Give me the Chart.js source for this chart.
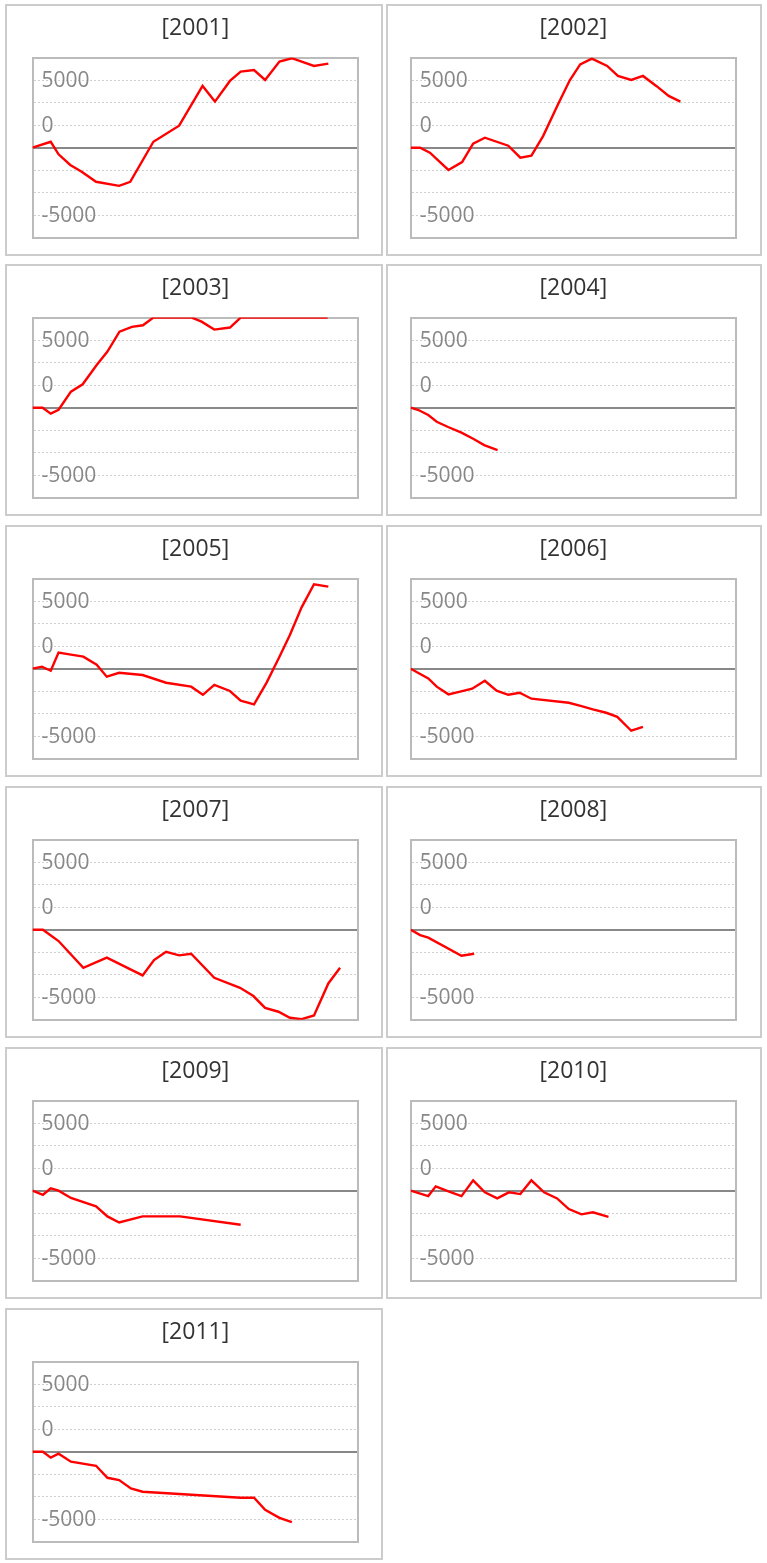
<!DOCTYPE html>
<html>
<head>
<meta charset="utf-8">
<script src="https://cdn.jsdelivr.net/npm/chart.js@4.4.0/dist/chart.umd.min.js"></script>
<style>
  body { margin: 0; background: #fff; }
  .panel { position: absolute; box-sizing: border-box; height: 252px; border: 2px solid #ccc; background: #fff; }
  .panel canvas { position: absolute; left: 0; top: 0; }
</style>
</head>
<body>
<script>
// x = position along the year (0-100), y = value
const YEARS = ['2001', '2002', '2003', '2004', '2005', '2006', '2007', '2008', '2009', '2010', '2011'];

const x2001 = [0, 5.6, 8.0, 11.6, 15.1, 19.5, 26.6, 30.0, 37.1, 45.0, 52.2, 56.0, 60.6, 63.9, 68.0, 71.4, 75.8, 79.6, 86.4, 90.8];
const y2001 = [0, 440, -490, -1280, -1780, -2520, -2820, -2520, 440, 1630, 4570, 3410, 4940, 5630, 5750, 5010, 6370, 6620, 6050, 6220];

const x2002 = [0, 2.9, 5.9, 11.6, 15.8, 19.2, 22.8, 30.0, 33.7, 37.1, 40.7, 45.3, 48.9, 52.1, 55.7, 60.4, 63.7, 67.8, 71.4, 75.5, 79.3, 82.9];
const y2002 = [0, 0, -370, -1650, -1060, 300, 740, 150, -740, -590, 860, 3210, 4990, 6170, 6590, 6050, 5310, 5010, 5310, 4570, 3830, 3410];

const x2003 = [0, 3.1, 5.6, 8.0, 11.8, 15.4, 19.7, 23.0, 26.7, 30.5, 33.9, 37.1, 48.9, 51.9, 55.8, 60.6, 63.9, 90.6];
const y2003 = [0, 0, -440, -150, 1190, 1730, 3160, 4150, 5630, 5980, 6100, 6667, 6667, 6370, 5780, 5930, 6667, 6667];

const x2004 = [0, 2.4, 5.4, 8.0, 11.5, 15.6, 19.2, 22.6, 26.7];
const y2004 = [0, -170, -540, -1040, -1430, -1850, -2300, -2770, -3140];

const x2005 = [0, 2.9, 5.6, 8.0, 11.8, 15.6, 19.7, 22.8, 26.6, 33.8, 41.0, 48.7, 52.3, 55.8, 60.6, 63.9, 68.0, 71.9, 75.8, 79.0, 82.6, 86.4, 90.8];
const y2005 = [0, 150, -150, 1190, 1040, 890, 300, -590, -300, -470, -1040, -1330, -1930, -1190, -1650, -2370, -2640, -1010, 890, 2490, 4540, 6250, 6070];

const x2006 = [0, 5.4, 8.0, 11.6, 15.2, 18.9, 22.8, 26.4, 30.0, 33.5, 37.1, 48.6, 52.5, 56.0, 60.1, 63.5, 67.8, 71.4];
const y2006 = [0, -720, -1330, -1900, -1700, -1480, -890, -1630, -1930, -1780, -2220, -2520, -2770, -3010, -3260, -3560, -4590, -4300];

const x2007 = [0, 3.2, 8.0, 15.6, 22.8, 33.8, 37.3, 41.0, 45.0, 48.7, 55.8, 63.7, 67.8, 71.4, 75.5, 79.0, 82.6, 86.4, 90.8, 94.4];
const y2007 = [0, 0, -840, -2820, -2070, -3380, -2250, -1630, -1900, -1780, -3560, -4300, -4910, -5780, -6070, -6520, -6620, -6350, -3980, -2820];

const x2008 = [0, 2.9, 5.4, 15.6, 19.5];
const y2008 = [0, -400, -590, -1930, -1780];

const x2009 = [0, 3.2, 5.6, 8.0, 11.8, 19.5, 23.0, 26.6, 33.8, 45.3, 63.9];
const y2009 = [0, -300, 170, 0, -540, -1160, -1900, -2350, -1900, -1900, -2520];

const x2010 = [0, 5.4, 7.7, 11.6, 15.6, 19.2, 22.8, 26.6, 30.2, 33.7, 37.1, 41.0, 45.0, 48.6, 52.5, 56.0, 60.8];
const y2010 = [0, -400, 320, -50, -400, 770, -120, -570, -120, -250, 770, -120, -570, -1360, -1750, -1600, -1930];

const x2011 = [0, 3.2, 5.6, 8.0, 11.8, 19.5, 23.0, 26.6, 30.2, 33.8, 63.9, 68.0, 71.4, 75.8, 79.6];
const y2011 = [0, 0, -440, -150, -740, -1040, -1930, -2100, -2720, -2960, -3410, -3410, -4300, -4890, -5210];

// y axis: 8 bands, labels only on three of the lines
const Y_MIN = -6667, Y_MAX = 6667;
const TICK_VALUES = [-6667, -5000, -3333, -1667, 0, 1667, 3333, 5000, 6667];
const TICK_LABELS = ['', '-5000', '', '', '', '0', '', '5000', ''];

const SERIES = {
  '2001': [x2001, y2001], '2002': [x2002, y2002], '2003': [x2003, y2003],
  '2004': [x2004, y2004], '2005': [x2005, y2005], '2006': [x2006, y2006],
  '2007': [x2007, y2007], '2008': [x2008, y2008], '2009': [x2009, y2009],
  '2010': [x2010, y2010], '2011': [x2011, y2011]
};

const ROW_TOPS = [4, 264, 525, 786, 1047, 1308];
const ZERO_IDX = 4;
const isEdge = k => k === 0 || k === TICK_VALUES.length - 1;

YEARS.forEach((year, i) => {
  const col = i % 2;
  const row = Math.floor(i / 2);
  const w = col ? 376 : 378;

  const panel = document.createElement('div');
  panel.className = 'panel';
  panel.style.left = (col ? 386 : 5) + 'px';
  panel.style.top = ROW_TOPS[row] + 'px';
  panel.style.width = w + 'px';
  const canvas = document.createElement('canvas');
  canvas.width = w - 4;
  canvas.height = 248;
  panel.appendChild(canvas);
  document.body.appendChild(panel);

  const [xs, ys] = SERIES[year];

  new Chart(canvas, {
    type: 'line',
    data: {
      datasets: [{
        data: xs.map((x, k) => ({ x: x, y: ys[k] })),
        borderColor: '#ff0000',
        borderWidth: 2.4,
        pointRadius: 0,
        tension: 0
      }]
    },
    options: {
      responsive: false,
      animation: false,
      events: [],
      layout: { padding: { left: col ? 22.7 : 25.5, right: col ? 24 : 22.7, top: 0, bottom: 16.2 } },
      plugins: {
        legend: { display: false },
        tooltip: { enabled: false },
        title: {
          display: true,
          text: '[' + year + ']',
          color: '#333',
          font: { family: 'Open Sans', size: 23, weight: 'normal' },
          padding: { top: 9, bottom: 15 }
        }
      },
      scales: {
        x: {
          type: 'linear', min: 0, max: 100,
          ticks: { display: false },
          grid: { display: false, drawTicks: false },
          border: { display: true, color: '#bbb', width: 2 }
        },
        y: {
          min: Y_MIN, max: Y_MAX,
          afterBuildTicks: s => { s.ticks = TICK_VALUES.map(v => ({ value: v })); },
          afterFit: s => { s.width = 0; s.paddingTop = 0; s.paddingBottom = 0; },
          ticks: {
            autoSkip: false,
            mirror: true, padding: 9, labelOffset: 1,
            color: '#888',
            font: { family: 'Open Sans', size: 21 },
            callback: (v, k) => TICK_LABELS[k]
          },
          grid: {
            drawTicks: false,
            color: c => (c.index === ZERO_IDX ? '#888' : (isEdge(c.index) ? '#bbb' : '#cfcfcf')),
            lineWidth: c => (c.index === ZERO_IDX || isEdge(c.index) ? 2 : 1)
          },
          border: {
            display: true, color: '#bbb', width: 2,
            dash: c => (c.index === undefined || c.index === ZERO_IDX || isEdge(c.index) ? [] : [2, 2])
          }
        },
        yr: {
          position: 'right', min: Y_MIN, max: Y_MAX,
          ticks: { display: false },
          grid: { display: false, drawTicks: false },
          border: { display: true, color: '#bbb', width: 2 }
        }
      }
    }
  });
});
</script>
</body>
</html>
